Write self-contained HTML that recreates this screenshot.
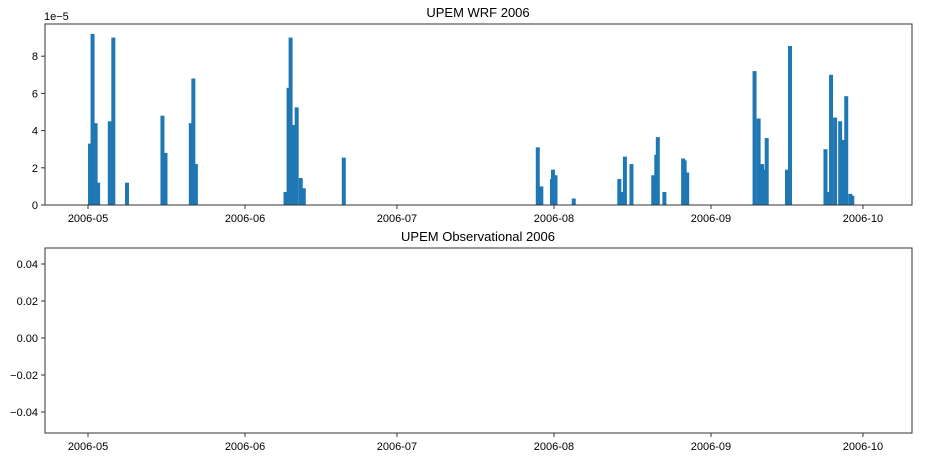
<!DOCTYPE html>
<html><head><meta charset="utf-8"><style>
body{margin:0;background:#fff;}
svg{display:block;font-family:"Liberation Sans",sans-serif;}
</style></head><body>
<svg id="chart" width="936" height="464">
<text x="478" y="17" font-size="13" text-anchor="middle">UPEM WRF 2006</text>
<text x="44" y="20" font-size="11">1e−5</text>
<text x="478" y="241" font-size="13" text-anchor="middle">UPEM Observational 2006</text>
<g id="topg"></g><g id="botg"></g>
<rect x="45" y="24" width="867" height="181" fill="none" stroke="#333" stroke-width="1"/>
<rect x="45" y="248" width="867" height="185" fill="none" stroke="#333" stroke-width="1"/>
</svg>
<script>
const days=[0.4,0.9,1.5,2,4.3,5,7.7,14.7,15.3,20.3,20.8,21.3,39,39.6,40,40.6,41.2,42,42.6,50.5,88.8,89.5,91.6,91.8,92.3,95.9,104.9,105.5,106,107.3,111.6,112.2,112.5,113.8,117.5,117.8,118.3,131.6,132.4,133.1,133.5,134,138,138.6,145.6,146.3,146.7,147.5,148.5,149.1,149.7,150.5,150.9];
const values=[3.3,9.2,4.4,1.2,4.5,9.0,1.2,4.8,2.8,4.4,6.8,2.2,0.7,6.3,9.0,4.3,5.25,1.45,0.9,2.55,3.1,1.0,1.4,1.9,1.6,0.35,1.4,0.7,2.6,2.2,1.6,2.7,3.65,0.7,2.5,2.4,1.75,7.2,4.65,2.2,1.9,3.6,1.9,8.55,3.0,0.7,7.0,4.7,4.5,3.5,5.85,0.6,0.5];
const xTickLabels=["2006-05","2006-06","2006-07","2006-08","2006-09","2006-10"];
const xTickDays=[0,31,61,92,123,153];
const topYTicks=[0,2,4,6,8];
const botYTicks=[0.04,0.02,0.00,-0.02,-0.04];
const NS="http://www.w3.org/2000/svg";
const xs=d=>88+d*5.065;
const yTop=v=>205-v*18.6;
const yBot=v=>338-v*1850;
function mk(tag,attrs,parent,text){const e=document.createElementNS(NS,tag);for(const k in attrs)e.setAttribute(k,attrs[k]);if(text!==undefined)e.textContent=text;parent.appendChild(e);return e;}
const gTop=document.getElementById('topg'),gBot=document.getElementById('botg');
days.forEach((d,i)=>{
 const r=mk('rect',{x:xs(d)-2,y:yTop(values[i]),width:4,height:205-yTop(values[i]),fill:'#1f77b4'},gTop);
 
 
});
[[gTop,205],[gBot,433]].forEach(([g,base])=>{
 xTickDays.forEach((d,i)=>{
  const x=xs(d);
  mk('line',{x1:x,x2:x,y1:base,y2:base+4,stroke:'#333'},g);
  const t=mk('text',{x:x,y:base+17,'font-size':11,'text-anchor':'middle'},g,xTickLabels[i]);
  
  
 });
});
topYTicks.forEach(v=>{
 const y=yTop(v);
 mk('line',{x1:41,x2:45,y1:y,y2:y,stroke:'#333'},gTop);
 const t=mk('text',{x:38,y:y+4,'font-size':11,'text-anchor':'end'},gTop,String(v));
 
 
});
botYTicks.forEach(v=>{
 const y=yBot(v);
 mk('line',{x1:41,x2:45,y1:y,y2:y,stroke:'#333'},gBot);
 const t=mk('text',{x:38,y:y+4,'font-size':11,'text-anchor':'end'},gBot,(v<0?'−':'')+Math.abs(v).toFixed(2));
 
 
});
</script>
</body></html>
